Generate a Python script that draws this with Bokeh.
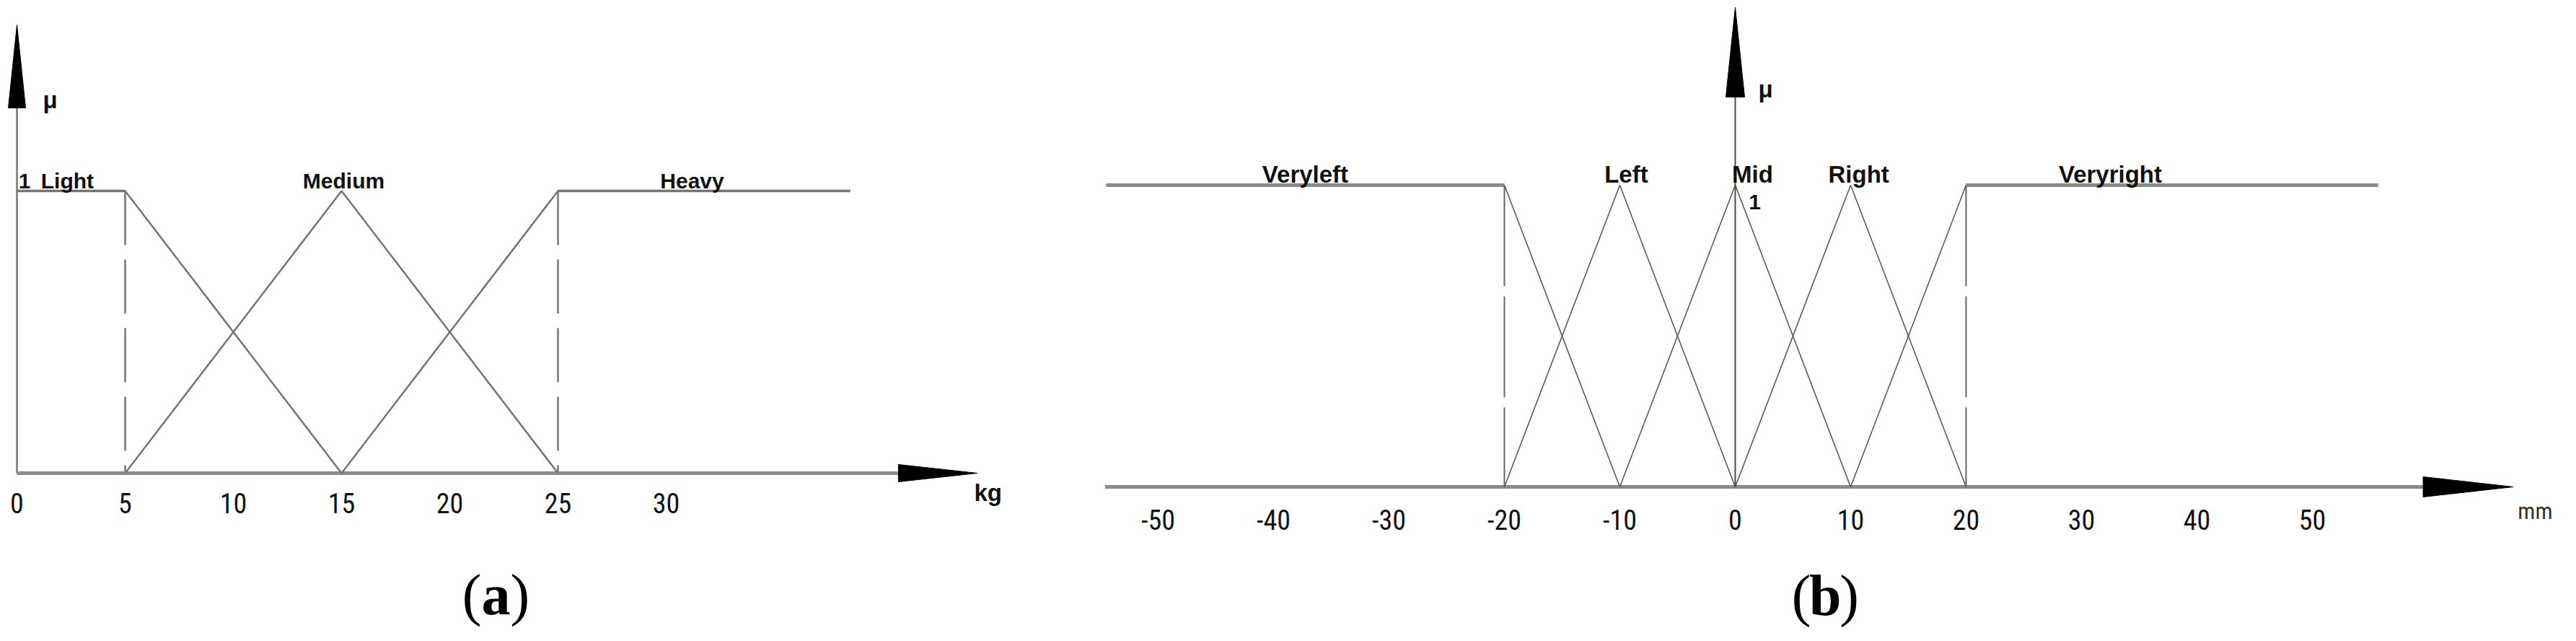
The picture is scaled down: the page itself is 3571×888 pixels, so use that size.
from bokeh.plotting import figure
from bokeh.layouts import row
from bokeh.models import Range1d
from bokeh.core.properties import value
from bokeh.embed import file_html
from bokeh.resources import INLINE

# ---------------- data ----------------
# (a) load weight, kg
a_tick_values = [0, 5, 10, 15, 20, 25, 30]
a_tick_labels = ["0", "5", "10", "15", "20", "25", "30"]
a_set_names = ["Light", "Medium", "Heavy"]
light_x = [0, 5, 15]
light_mu = [1, 1, 0]
medium_x = [5, 15, 25]
medium_mu = [0, 1, 0]
heavy_x = [15, 25, 38.5]
heavy_mu = [0, 1, 1]
a_dashed_x = [5, 25]

# (b) deviation, mm
b_tick_values = [-50, -40, -30, -20, -10, 0, 10, 20, 30, 40, 50]
b_tick_labels = ["-50", "-40", "-30", "-20", "-10", "0", "10", "20", "30", "40", "50"]
b_set_names = ["Veryleft", "Left", "Mid", "Right", "Veryright"]
veryleft_x = [-54.5, -20, -10]
veryleft_mu = [1, 1, 0]
left_x = [-20, -10, 0]
left_mu = [0, 1, 0]
mid_x = [-10, 0, 10]
mid_mu = [0, 1, 0]
right_x = [0, 10, 20]
right_mu = [0, 1, 0]
veryright_x = [10, 20, 55.7]
veryright_mu = [0, 1, 1]
b_dashed_x = [-20, 20]

# ---------------- layout constants ----------------
H = 872
WA, WB = 1428, 2127
A_X = (-0.7667, 46.833)
A_Y = (-0.555, 1.6752)
B_X = (-61.06, 71.875)
B_Y = (-0.4737, 1.6124)

SANS = value("Liberation Sans")
NARROW = value("'Roboto Condensed', 'DejaVu Sans Condensed', 'Liberation Sans Narrow', 'Liberation Sans', sans-serif")
SERIF = value("Liberation Serif")


def make_fig(w, xr, yr):
    p = figure(width=w, height=H, x_range=Range1d(*xr), y_range=Range1d(*yr),
               output_backend="svg", toolbar_location=None, min_border=0,
               x_axis_type=None, y_axis_type=None)
    p.grid.visible = False
    p.outline_line_color = None
    p.background_fill_color = "white"
    p.border_fill_color = "white"
    return p


def px_scale(w, h, xr, yr):
    return w / (xr[1] - xr[0]), h / (yr[1] - yr[0])


def plateaus(xs, ys):
    out = ([], [], [], [])
    for i in range(len(xs) - 1):
        if ys[i] == 1 and ys[i + 1] == 1:
            out[0].append(xs[i]); out[1].append(1)
            out[2].append(xs[i + 1]); out[3].append(1)
    return out


def tick_labels(p, ticks, labels, offset, size):
    p.text(x=ticks, y=[0] * len(ticks), text=labels, y_offset=offset,
           text_font=NARROW, text_font_size=size, text_align="center",
           text_baseline="alphabetic", text_color="#111111")


def caption(p, xc, y, letter):
    common = dict(text_font=SERIF, text_font_size="80px", text_color="#000000",
                  text_baseline="alphabetic")
    p.text(x=[xc], y=[y], text=["("], text_align="right", x_offset=-20, **common)
    p.text(x=[xc], y=[y], text=[letter], text_align="center",
           text_font_style="bold", **common)
    p.text(x=[xc], y=[y], text=[")"], text_align="left", x_offset=20, **common)


# ================= panel (a) =================
pa = make_fig(WA, A_X, A_Y)
sxa, sya = px_scale(WA, H, A_X, A_Y)

a_xs = [light_x, medium_x, heavy_x]
a_ys = [light_mu, medium_mu, heavy_mu]

a_x_tip, a_x_base = 44.37, 40.73
a_y_tip, a_y_base = 1.588, 1.294
pa.line([0, a_x_base], [0, 0], line_color="#8c8c8c", line_width=5)
pa.line([0, 0], [0, a_y_base], line_color="#8a8a8a", line_width=3)
pa.patch([a_x_base, a_x_tip, a_x_base], [12 / sya, 0, -12 / sya], color="black")
pa.patch([-12 / sxa, 0, 12 / sxa], [a_y_base, a_y_tip, a_y_base], color="black")

pa.segment(x0=a_dashed_x, y0=[1] * len(a_dashed_x), x1=a_dashed_x,
           y1=[0] * len(a_dashed_x), line_color="#8a8a8a", line_width=3,
           line_dash="75 20")

pa.multi_line(xs=a_xs, ys=a_ys, line_color="#747474", line_width=2.5)
for xs, ys in zip(a_xs, a_ys):
    x0, y0, x1, y1 = plateaus(xs, ys)
    if x0:
        pa.segment(x0=x0, y0=y0, x1=x1, y1=y1, line_color="#747474", line_width=3.5)

tick_labels(pa, a_tick_values, a_tick_labels, 42, "38px")

pa.text(x=[2.33, 15.1, 31.2], y=[1.035] * 3, text=a_set_names, text_font=SANS,
        text_font_style="bold", text_font_size="30px", text_align="center",
        text_baseline="alphabetic", text_color="#111111")
pa.text(x=[0.35], y=[1.035], text=["1"], text_font=SANS, text_font_style="bold",
        text_font_size="30px", text_align="center", text_baseline="alphabetic",
        text_color="#111111")
pa.text(x=[1.2], y=[1.322], text=["μ"], text_font=SANS, text_font_style="bold",
        text_font_size="33px", text_align="left", text_baseline="alphabetic",
        text_color="#111111")
pa.text(x=[44.23], y=[-0.069], text=["kg"], text_font=SANS, text_font_style="bold",
        text_font_size="33px", text_align="left", text_baseline="alphabetic",
        text_color="#111111")
caption(pa, 22.13, -0.432, "a")

# ================= panel (b) =================
pb = make_fig(WB, B_X, B_Y)
sxb, syb = px_scale(WB, H, B_X, B_Y)

b_xs = [veryleft_x, left_x, mid_x, right_x, veryright_x]
b_ys = [veryleft_mu, left_mu, mid_mu, right_mu, veryright_mu]

b_x_start, b_x_base, b_x_tip = -54.6, 59.6, 67.4
b_y_base, b_y_tip = 1.292, 1.589
pb.line([b_x_start, b_x_base], [0, 0], line_color="#8a8a8a", line_width=5)
pb.patch([b_x_base, b_x_tip, b_x_base], [14 / syb, 0, -14 / syb], color="black")

pb.segment(x0=b_dashed_x, y0=[1] * len(b_dashed_x), x1=b_dashed_x,
           y1=[0] * len(b_dashed_x), line_color="#666666", line_width=2,
           line_dash="140 14")

pb.multi_line(xs=b_xs, ys=b_ys, line_color="#5a5a5a", line_width=1.6)
for xs, ys in zip(b_xs, b_ys):
    x0, y0, x1, y1 = plateaus(xs, ys)
    if x0:
        pb.segment(x0=x0, y0=y0, x1=x1, y1=y1, line_color="#8a8a8a", line_width=5)

pb.line([0, 0], [0, b_y_base], line_color="#4a4a4a", line_width=2)
pb.patch([-13 / sxb, 0, 13 / sxb], [b_y_base, b_y_tip, b_y_base], color="black")

tick_labels(pb, b_tick_values, b_tick_labels, 46, "38px")

pb.text(x=[-37.25, -9.44, 1.5, 10.7, 32.5], y=[1.035] * 5, text=b_set_names,
        text_font=SANS, text_font_style="bold", text_font_size="33px",
        text_align="center", text_baseline="alphabetic", text_color="#111111")
pb.text(x=[1.69], y=[0.943], text=["1"], text_font=SANS, text_font_style="bold",
        text_font_size="30px", text_align="center", text_baseline="alphabetic",
        text_color="#111111")
pb.text(x=[2.0], y=[1.318], text=["μ"], text_font=SANS, text_font_style="bold",
        text_font_size="33px", text_align="left", text_baseline="alphabetic",
        text_color="#111111")
pb.text(x=[67.8], y=[-0.079], text=["mm"], text_font=NARROW,
        text_font_size="32px", text_align="left", text_baseline="alphabetic",
        text_color="#333333")
caption(pb, 7.8, -0.359, "b")

layout = row(pa, pb)
open("out.html", "w").write(file_html(layout, INLINE))
